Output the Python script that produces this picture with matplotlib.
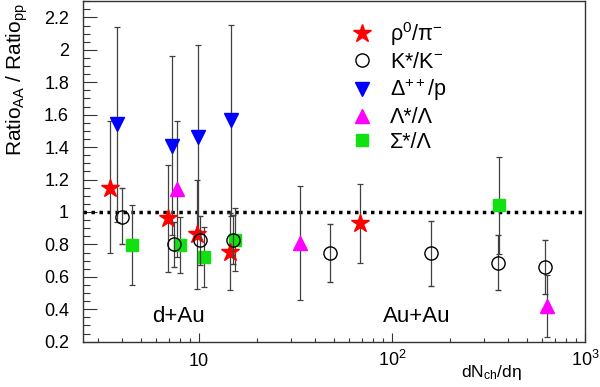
import matplotlib
matplotlib.use('Agg')
from matplotlib import pyplot as plt
from matplotlib.lines import Line2D
from matplotlib.ticker import MultipleLocator, NullFormatter, LogLocator
import numpy as np

plt.rcParams['font.family'] = ['Liberation Sans', 'DejaVu Sans']
plt.rcParams['mathtext.fontset'] = 'custom'
plt.rcParams['mathtext.rm'] = 'Liberation Sans'
plt.rcParams['mathtext.it'] = 'Liberation Sans:italic'

# rho0/pi-
rho_x = [3.46, 6.93, 9.73, 14.4, 68.3]
rho_y = [1.15, 0.96, 0.867, 0.755, 0.93]
rho_lo = [0.40, 0.33, 0.34, 0.235, 0.245]
rho_hi = [0.41, 0.33, 0.33, 0.24, 0.24]

# K*/K-
kst_x = [3.98, 7.42, 10.1, 14.9, 47.7, 158.6, 355.6, 620]
kst_y = [0.97, 0.80, 0.826, 0.83, 0.748, 0.745, 0.687, 0.663]
kst_lo = [0.17, 0.14, 0.15, 0.15, 0.18, 0.20, 0.17, 0.17]
kst_hi = [0.18, 0.14, 0.15, 0.15, 0.18, 0.20, 0.17, 0.167]

# Delta++/p
del_x = [3.77, 7.27, 9.85, 14.65]
del_y = [1.54, 1.41, 1.46, 1.565]
del_err = [0.60, 0.55, 0.57, 0.59]

# Lambda*/Lambda
lam_x = [7.66, 33.4, 633]
lam_y = [1.143, 0.81, 0.42]
lam_err = [0.42, 0.35, 0.19]

# Sigma*/Lambda
sig_x = [4.48, 7.97, 10.65, 15.37, 359.6]
sig_y = [0.796, 0.796, 0.724, 0.83, 1.04]
sig_err = [0.245, 0.17, 0.185, 0.195, 0.30]

labels = ['ρ$^{0}$/π$^{-}$', 'K*/K$^{-}$', 'Δ$^{++}$/p', 'Λ*/Λ', 'Σ*/Λ']

red = '#ff0000'
blue = '#0000ff'
mag = '#ff00ff'
green = '#11e011'
ecol = '#404040'

fig = plt.figure(figsize=(6, 3.87), dpi=100)
ax = fig.add_axes([83/600, 1-341.7/387, 502/600, 340.5/387])

ekw = dict(ls='none', ecolor=ecol, elinewidth=0.9, capsize=2, capthick=0.9)
ax.errorbar(del_x, del_y, yerr=del_err, marker='v', ms=9.5, color=blue, mec=blue, zorder=3, **ekw)
ax.errorbar(lam_x, lam_y, yerr=lam_err, marker='^', ms=9.5, color=mag, mec=mag, zorder=3, **ekw)
ax.errorbar(sig_x, sig_y, yerr=sig_err, marker='s', ms=8.5, color=green, mec=green, zorder=3, **ekw)
ax.errorbar(rho_x, rho_y, yerr=[rho_lo, rho_hi], marker='*', ms=13.5, color=red, mec=red, zorder=3, **ekw)
ax.errorbar(kst_x, kst_y, yerr=[kst_lo, kst_hi], marker='o', ms=9.5, mfc='none', mec='black', mew=1.0, zorder=4, **ekw)

ax.axhline(1.0, color='black', ls=(0, (1, 1.3)), lw=2.5, zorder=2)

ax.set_xscale('log')
ax.set_xlim(2.5, 1000)
ax.set_ylim(0.2, 2.3)

ax.set_xticks([10, 100, 1000], labels=['10', '$10^{2}$', '$10^{3}$'])
ax.xaxis.set_minor_locator(LogLocator(base=10, subs=np.arange(2, 10)))
ax.xaxis.set_minor_formatter(NullFormatter())
ax.yaxis.set_minor_locator(MultipleLocator(0.05))
ax.set_yticks(np.arange(0.2, 2.21, 0.2))
ax.set_yticklabels(['0.2', '0.4', '0.6', '0.8', '1', '1.2', '1.4', '1.6', '1.8', '2', '2.2'])

ax.tick_params(axis='x', which='major', direction='in', length=6.5, width=0.8, labelsize=13, pad=17.5, color='#333333')
ax.tick_params(axis='x', which='minor', direction='in', length=3.2, width=0.8, color='#333333')
ax.tick_params(axis='y', which='major', direction='in', length=10, width=0.8, labelsize=13, pad=10, color='#333333')
ax.tick_params(axis='y', which='minor', direction='in', length=5, width=0.8, color='#333333')
for lab in ax.get_xticklabels():
    lab.set_va('baseline')

for s in ax.spines.values():
    s.set_color('#333333')
    s.set_linewidth(1.0)

ax.text(7.78, 0.32, 'd+Au', fontsize=16, ha='center', va='baseline')
ax.text(133.6, 0.32, 'Au+Au', fontsize=16, ha='center', va='baseline')

fig.text(521.7/600, 1-376.7/387, r'dN$_{\mathrm{ch}}$/dη', fontsize=12.5, ha='right', va='baseline')
fig.text(17/600, 1-3/387, r'Ratio$_{\mathrm{AA}}$ / Ratio$_{\mathrm{pp}}$', fontsize=15, rotation=90, ha='center', va='top')

handles = [
    Line2D([], [], ls='none', marker='*', ms=13.5, color=red),
    Line2D([], [], ls='none', marker='o', ms=9.5, mfc='none', mec='black', mew=1.0),
    Line2D([], [], ls='none', marker='v', ms=9.5, color=blue),
    Line2D([], [], ls='none', marker='^', ms=9.5, color=mag),
    Line2D([], [], ls='none', marker='s', ms=8.5, color=green),
]
ax.legend(handles, labels, loc='upper left', bbox_to_anchor=((351.3-83)/502, (341.7-19)/341.7),
          frameon=False, fontsize=15.5, handlelength=1.0, handletextpad=0.8,
          labelspacing=0.18, borderpad=0, borderaxespad=0)

fig.savefig('out.png', dpi=100)
